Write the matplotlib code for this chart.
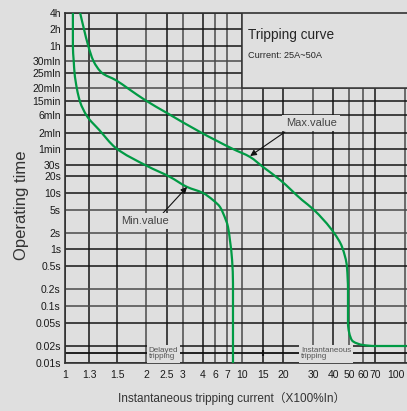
import numpy as np
import matplotlib
matplotlib.use('Agg')
import matplotlib.pyplot as plt
from matplotlib.patches import Rectangle, PathPatch
from matplotlib.path import Path

plt.rcParams['font.family'] = ['Liberation Sans', 'Noto Sans CJK SC', 'DejaVu Sans']

# tick values and labels
x_ticks = [1, 1.3, 1.5, 2, 2.5, 3, 4, 6, 7, 10, 15, 20, 30, 40, 50, 60, 70, 100]
x_labels = ['1', '1.3', '1.5', '2', '2.5', '3', '4', '6', '7', '10', '15', '20',
            '30', '40', '50', '60', '70', '100']
y_ticks = [14400, 7200, 3600, 1800, 1500, 1200, 900, 360, 120, 60, 30, 20, 10, 5,
           2, 1, 0.5, 0.2, 0.1, 0.05, 0.02, 0.01]
y_labels = ['4h', '2h', '1h', '30mln', '25mln', '20mln', '15min', '6mln', '2mln',
            '1min', '30s', '20s', '10s', '5s', '2s', '1s', '0.5s', '0.2s', '0.1s',
            '0.05s', '0.02s', '0.01s']

# curves (multiple of In, seconds)
min_current = [1.09, 1.09, 1.10, 1.11, 1.14, 1.18, 1.27, 1.37, 1.49, 2.02, 2.59,
               3.18, 4.0, 5.6, 6.4, 6.65, 7.17, 7.5, 7.9, 8.07, 8.07]
min_time = [14400, 3600, 1800, 1500, 1170, 840, 340, 144, 63, 29, 19.2,
            12.8, 10, 7.5, 5.65, 4.44, 2.54, 1.48, 0.64, 0.25, 0.01]
max_current = [1.18, 1.23, 1.29, 1.33, 1.39, 1.49, 1.69, 1.98, 2.5, 3.83, 8.07,
               11.7, 15, 19.2, 25.9, 30, 40.6, 45.4, 48.6, 49.3, 49.3, 52, 60, 70, 102]
max_time = [14400, 7200, 3600, 1800, 1500, 1350, 1170, 920, 410, 128, 60,
            42.4, 27.9, 17, 7.5, 5.2, 2.0, 1.09, 0.48, 0.19, 0.05, 0.025, 0.0208, 0.02, 0.02]

# grid geometry of the printed chart (pixels), non uniform spacing
W, H = 407, 411
x_grid_px = [65, 89, 117, 146, 167, 183, 203, 215, 227, 242, 263, 283, 313, 333,
             349, 363, 375, 405]
y_grid_px = [13, 29, 46, 61, 73, 88, 101, 115, 133, 149, 165, 176, 193, 210, 233,
             249, 266, 289, 306, 323, 346, 363]

BG = '#dfdfdf'
GREEN = '#009a44'


def make_scale(vals, pos):
    lv = np.log10(np.asarray(vals, float))
    pos = np.asarray(pos, float)
    order = np.argsort(lv)
    lv, pos = lv[order], pos[order]
    s0 = (pos[1] - pos[0]) / (lv[1] - lv[0])
    s1 = (pos[-1] - pos[-2]) / (lv[-1] - lv[-2])

    def fwd(v):
        l = np.log10(np.clip(np.asarray(v, float), 1e-12, None))
        out = np.interp(l, lv, pos)
        out = np.where(l < lv[0], pos[0] + (l - lv[0]) * s0, out)
        out = np.where(l > lv[-1], pos[-1] + (l - lv[-1]) * s1, out)
        return out

    def inv(p):
        p = np.asarray(p, float)
        l = np.interp(p, pos, lv)
        l = np.where(p < pos[0], lv[0] + (p - pos[0]) / s0, l)
        l = np.where(p > pos[-1], lv[-1] + (p - pos[-1]) / s1, l)
        return 10 ** l

    return fwd, inv


xf, xi = make_scale(x_ticks, x_grid_px)
yf, yi = make_scale(y_ticks, H - np.array(y_grid_px))


def pchip_slopes(s, v):
    h = np.diff(s)
    d = np.diff(v) / h
    m = np.zeros_like(v)
    m[0], m[-1] = d[0], d[-1]
    for k in range(1, len(v) - 1):
        if d[k - 1] * d[k] <= 0:
            m[k] = 0.0
        else:
            w1 = 2 * h[k] + h[k - 1]
            w2 = h[k] + 2 * h[k - 1]
            m[k] = (w1 + w2) / (w1 / d[k - 1] + w2 / d[k])
    return m


def smooth_curve(xs, ys):
    # smooth path through the read points, built in the chart's own scale space
    px, py = xf(xs), yf(ys)
    s = np.concatenate([[0], np.cumsum(np.hypot(np.diff(px), np.diff(py)))])
    mx, my = pchip_slopes(s, px), pchip_slopes(s, py)
    verts = [(px[0], py[0])]
    codes = [Path.MOVETO]
    for k in range(len(px) - 1):
        h = (s[k + 1] - s[k]) / 3
        verts += [(px[k] + mx[k] * h, py[k] + my[k] * h),
                  (px[k + 1] - mx[k + 1] * h, py[k + 1] - my[k + 1] * h),
                  (px[k + 1], py[k + 1])]
        codes += [Path.CURVE4] * 3
    verts = np.array(verts)
    data = np.column_stack([xi(verts[:, 0]), yi(verts[:, 1])])
    return Path(data, codes)


fig = plt.figure(figsize=(W / 100, H / 100), dpi=100, facecolor=BG)
ax = fig.add_axes([65 / W, (H - 363) / H, (W - 65) / W, (363 - 13) / H])
ax.set_facecolor(BG)
ax.set_xscale('function', functions=(xf, xi))
ax.set_yscale('function', functions=(yf, yi))
xmax = float(xi(W))
ax.set_xlim(1, xmax)
ax.set_ylim(0.01, 14400)

ax.set_xticks(x_ticks)
ax.set_xticklabels(x_labels)
ax.get_xticklabels()[-1].set_ha('right')
ax.set_yticks(y_ticks)
ax.set_yticklabels(y_labels)
ax.minorticks_off()
ax.tick_params(length=0, labelsize=7.5, colors='#1a1a1a')
ax.tick_params(axis='x', pad=5)
ax.tick_params(axis='y', pad=3)

ax.set_axisbelow(True)
ax.grid(True, color='#151515', lw=1.1)
gray_x = {2, 3, 6, 7, 10, 30, 50, 60, 100}
for t, gl in zip(x_ticks, ax.xaxis.get_gridlines()):
    if t in gray_x:
        gl.set_color('#4a4a4a')
gray_y = {1800, 1200, 5, 2, 0.2, 0.1}
for t, gl in zip(y_ticks, ax.yaxis.get_gridlines()):
    if t in gray_y:
        gl.set_color('#4a4a4a')

for s in ['left', 'bottom', 'top']:
    ax.spines[s].set_color('#333333')
    ax.spines[s].set_linewidth(1.2)
ax.spines['right'].set_visible(False)

# title box (covers grid in upper right)
ax.add_patch(Rectangle((10, 1200), xmax * 2, 14400 * 2, facecolor=BG,
                       edgecolor='#333333', lw=1.1, zorder=1))
ax.text(11.2, 5640, 'Tripping curve', fontsize=9.8, color='#262626',
        va='center', ha='left', zorder=5)
ax.text(11.2, 2375, 'Current: 25A~50A', fontsize=6.6, color='#262626',
        va='center', ha='left', zorder=5)

# delayed / instantaneous line
ax.axhline(0.015, color='#111111', lw=1.3, zorder=1.5)
ax.plot([15], [0.015], marker='|', ms=5, mew=1.5, color='#111111', zorder=2)
box = dict(facecolor=BG, edgecolor='none', pad=1.5)
ax.text(2.06, 0.0147, 'Delayed\ntripping', fontsize=5.8, color='#555555',
        ha='left', va='center', linespacing=0.95, bbox=box, zorder=4)
ax.text(25.5, 0.0147, 'Instantaneous\ntripping', fontsize=5.8, color='#555555',
        ha='left', va='center', linespacing=0.95, bbox=box, zorder=4)

# curves
for xs, ys in [(min_current, min_time), (max_current, max_time)]:
    ax.add_patch(PathPatch(smooth_curve(xs, ys), facecolor='none',
                           edgecolor=GREEN, lw=1.6, zorder=3))

# annotations
arrow = dict(arrowstyle='-|>', color='#111111', lw=0.8, mutation_scale=9,
             shrinkA=0, shrinkB=0)
ax.annotate('', xy=(3.18, 12.8), xytext=(2.40, 4.44), arrowprops=arrow, zorder=4)
ax.annotate('', xy=(11.7, 44.3), xytext=(20.5, 127), arrowprops=arrow, zorder=4)
lbox = dict(facecolor=BG, edgecolor='none', pad=2.5)
ax.text(1.98, 3.23, 'Min.value', fontsize=8, color='#444444', ha='center',
        va='center', bbox=lbox, zorder=4)
ax.text(20.8, 221, 'Max.value', fontsize=8, color='#444444', ha='left',
        va='center', bbox=lbox, zorder=4)

fig.text(22 / W, 1 - 205 / H, 'Operating time', rotation=90, fontsize=12,
         color='#333333', ha='center', va='center')
fig.text(232 / W, 1 - 398 / H, 'Instantaneous tripping current（X100%In）',
         fontsize=8.5, color='#333333', ha='center', va='center')

fig.savefig('out.png', dpi=100, facecolor=BG)
